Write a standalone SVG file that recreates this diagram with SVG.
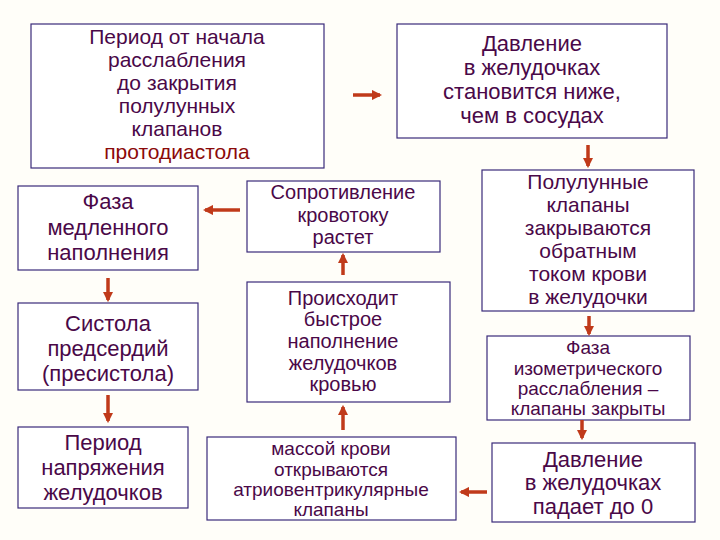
<svg xmlns="http://www.w3.org/2000/svg" width="720" height="540" viewBox="0 0 720 540">
<defs>
<style>
.b{fill:#fff;stroke:#3a2a7a;stroke-width:1.2}
text{font-family:"Liberation Sans",Arial,sans-serif;fill:#4a0848;text-anchor:middle}
.l{font-size:22px}.k{font-size:21px}.s{font-size:19px}.t{font-size:20px}
.a{stroke:#c03a1a;stroke-width:3.5;fill:none;marker-end:url(#h)}
</style>
<marker id="h" viewBox="0 0 10 10" refX="8" refY="5" markerWidth="3" markerHeight="3" orient="auto"><path d="M0,0L10,5L0,10z" fill="#c03a1a"/></marker>
</defs>
<rect width="720" height="540" fill="#fffef9"/>
<g id="n1"><rect class="b" x="31" y="24" width="293" height="144"/>
<text class="k" x="177" y="44">Период от начала</text><text class="k" x="177" y="67">расслабления</text><text class="k" x="177" y="90">до закрытия</text><text class="k" x="177" y="113">полулунных</text><text class="k" x="177" y="136">клапанов</text><text class="k" x="177" y="159" style="fill:#8b0a0a">протодиастола</text></g>
<g id="n2"><rect class="b" x="397" y="24" width="270" height="114"/>
<text class="l" x="532" y="51">Давление</text><text class="l" x="532" y="75">в желудочках</text><text class="l" x="532" y="99">становится ниже,</text><text class="l" x="532" y="123">чем в сосудах</text></g>
<g id="n3"><rect class="b" x="18" y="186" width="180" height="84"/>
<text class="l" x="108" y="209">Фаза</text><text class="l" x="108" y="235">медленного</text><text class="l" x="108" y="260">наполнения</text></g>
<g id="n4"><rect class="b" x="247" y="181" width="193" height="71"/>
<text class="t" x="343" y="199">Сопротивление</text><text class="t" x="343" y="222">кровотоку</text><text class="t" x="343" y="244">растет</text></g>
<g id="n5"><rect class="b" x="482" y="170" width="212" height="141"/>
<text class="k" x="588" y="189">Полулунные</text><text class="k" x="588" y="212">клапаны</text><text class="k" x="588" y="235">закрываются</text><text class="k" x="588" y="258">обратным</text><text class="k" x="588" y="281">током крови</text><text class="k" x="588" y="304">в желудочки</text></g>
<g id="n6"><rect class="b" x="18" y="303" width="180" height="87"/>
<text class="l" x="108" y="331">Систола</text><text class="l" x="108" y="356">предсердий</text><text class="l" x="108" y="381">(пресистола)</text></g>
<g id="n7"><rect class="b" x="247" y="282" width="203" height="120"/>
<text class="t" x="343" y="305">Происходит</text><text class="t" x="343" y="326">быстрое</text><text class="t" x="343" y="348">наполнение</text><text class="t" x="343" y="370">желудочков</text><text class="t" x="343" y="391">кровью</text></g>
<g id="n8"><rect class="b" x="487" y="336" width="203" height="84"/>
<text class="s" x="588" y="354">Фаза</text><text class="s" x="588" y="375">изометрического</text><text class="s" x="588" y="395">расслабления –</text><text class="s" x="588" y="415">клапаны закрыты</text></g>
<g id="n9"><rect class="b" x="18" y="427" width="170" height="81"/>
<text class="l" x="103" y="450">Период</text><text class="l" x="103" y="475">напряжения</text><text class="l" x="103" y="500">желудочков</text></g>
<g id="n10"><rect class="b" x="207" y="437" width="249" height="83"/>
<text class="s" x="331" y="455">массой крови</text><text class="s" x="331" y="476">открываются</text><text class="s" x="331" y="496">атриовентрикулярные</text><text class="s" x="331" y="516">клапаны</text></g>
<g id="n11"><rect class="b" x="492" y="443" width="203" height="79"/>
<text class="l" x="593" y="467">Давление</text><text class="l" x="593" y="490">в желудочках</text><text class="l" x="593" y="514">падает до 0</text></g>
<g id="connectors">
<path class="a" d="M353,95H380"/>
<path class="a" d="M588,145V166"/>
<path class="a" d="M240,210H205"/>
<path class="a" d="M343,275V255"/>
<path class="a" d="M108,278V300"/>
<path class="a" d="M108,395V421"/>
<path class="a" d="M343,430V407"/>
<path class="a" d="M589,316V334"/>
<path class="a" d="M582,420V438"/>
<path class="a" d="M487,492H461"/>
</g>
</svg>
